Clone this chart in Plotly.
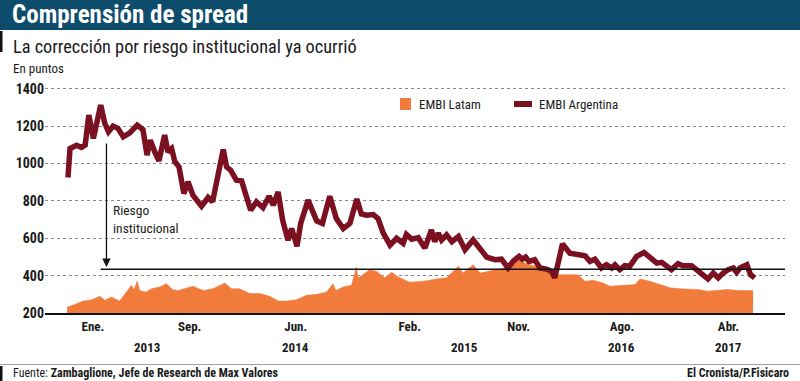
import plotly.graph_objects as go

# ---------------- data ----------------
arg_dates = [
    "2012-11-15", "2012-11-20", "2012-12-06", "2012-12-18", "2012-12-27", "2013-01-05",
    "2013-01-16", "2013-01-24", "2013-02-03", "2013-02-13", "2013-02-22", "2013-03-05",
    "2013-03-17", "2013-03-30", "2013-04-15", "2013-05-03", "2013-05-17", "2013-05-27",
    "2013-06-04", "2013-06-15", "2013-06-25", "2013-07-09", "2013-07-17", "2013-07-26",
    "2013-08-03", "2013-08-13", "2013-08-25", "2013-09-04", "2013-09-16", "2013-10-07",
    "2013-10-23", "2013-11-03", "2013-11-16", "2013-11-29", "2013-12-07", "2013-12-17",
    "2013-12-31", "2014-01-13", "2014-01-21", "2014-02-04", "2014-02-18", "2014-03-06",
    "2014-03-21", "2014-03-31", "2014-04-12", "2014-04-23", "2014-05-06", "2014-05-15",
    "2014-05-28", "2014-06-06", "2014-06-24", "2014-07-15", "2014-07-29", "2014-08-16",
    "2014-09-01", "2014-09-18", "2014-10-04", "2014-10-21", "2014-11-01", "2014-11-14",
    "2014-11-30", "2014-12-12", "2014-12-24", "2015-01-10", "2015-01-26", "2015-02-11",
    "2015-02-19", "2015-03-04", "2015-03-20", "2015-04-05", "2015-04-21", "2015-04-29",
    "2015-05-08", "2015-05-16", "2015-05-28", "2015-06-10", "2015-06-26", "2015-07-12",
    "2015-08-01", "2015-08-18", "2015-09-03", "2015-09-23", "2015-10-09", "2015-10-25",
    "2015-11-06", "2015-11-21", "2015-11-29", "2015-12-07", "2015-12-15", "2015-12-29",
    "2016-01-11", "2016-01-27", "2016-02-08", "2016-02-16", "2016-02-24", "2016-03-06",
    "2016-03-24", "2016-04-09", "2016-04-30", "2016-05-12", "2016-05-24", "2016-06-09",
    "2016-06-21", "2016-07-04", "2016-07-12", "2016-07-24", "2016-08-05", "2016-08-17",
    "2016-09-03", "2016-09-21", "2016-10-05", "2016-10-22", "2016-11-03", "2016-11-15",
    "2016-11-27", "2016-12-13", "2016-12-25", "2017-01-15", "2017-01-31", "2017-02-12",
    "2017-02-24", "2017-03-09", "2017-03-21", "2017-04-02", "2017-04-14", "2017-04-27",
    "2017-05-05", "2017-05-13", "2017-05-30", "2017-06-08", "2017-06-18",
]
embi_argentina = [
    925, 1080, 1098, 1086, 1098, 1259,
    1134, 1223, 1312, 1214, 1170, 1200,
    1188, 1143, 1164, 1205, 1182, 1045,
    1125, 1062, 1014, 1152, 1062, 1080,
    1009, 982, 839, 902, 830, 771,
    818, 795, 937, 1075, 982, 964,
    911, 907, 848, 750, 795, 764,
    825, 777, 848, 696, 589, 652,
    557, 679, 804, 693, 679, 825,
    705, 652, 679, 810, 730, 723,
    727, 705, 630, 563, 600, 573,
    620, 595, 603, 547, 644, 582,
    627, 591, 618, 582, 609, 538,
    591, 538, 499, 485, 488, 441,
    476, 503, 488, 499, 476, 485,
    441, 435, 423, 388, 476, 570,
    520, 512, 506, 476, 488, 441,
    458, 441, 458, 432, 453, 450,
    503, 524, 499, 467, 471, 450,
    432, 464, 453, 453, 428, 405,
    382, 414, 388, 414, 432, 441,
    418, 441, 458, 405, 388,
]

latam_dates = [
    "2012-11-13", "2012-11-20", "2012-12-06", "2012-12-22", "2013-01-12", "2013-02-01",
    "2013-02-13", "2013-03-01", "2013-03-21", "2013-04-11", "2013-04-19", "2013-04-25",
    "2013-05-03", "2013-05-09", "2013-05-24", "2013-06-07", "2013-06-27", "2013-07-13",
    "2013-07-29", "2013-08-11", "2013-08-27", "2013-09-16", "2013-10-11", "2013-11-04",
    "2013-12-03", "2013-12-19", "2014-01-08", "2014-02-02", "2014-02-27", "2014-03-23",
    "2014-04-12", "2014-05-02", "2014-05-27", "2014-06-20", "2014-07-15", "2014-08-08",
    "2014-08-24", "2014-08-31", "2014-09-18", "2014-10-08", "2014-10-20", "2014-10-24",
    "2014-11-05", "2014-11-21", "2014-12-08", "2014-12-28", "2015-01-14", "2015-01-30",
    "2015-02-27", "2015-04-01", "2015-05-04", "2015-05-28", "2015-06-26", "2015-07-07",
    "2015-08-01", "2015-08-18", "2015-09-07", "2015-10-05", "2015-10-29", "2015-11-19",
    "2015-12-05", "2015-12-25", "2016-01-11", "2016-01-27", "2016-02-16", "2016-03-04",
    "2016-04-13", "2016-04-30", "2016-05-20", "2016-06-13", "2016-06-30", "2016-07-24",
    "2016-08-30", "2016-09-11", "2016-10-05", "2016-10-30", "2016-11-23", "2016-12-25",
    "2017-01-31", "2017-02-24", "2017-03-17", "2017-04-10", "2017-05-13", "2017-06-14",
]
embi_latam = [
    232, 236, 250, 264, 271, 289,
    268, 286, 264, 321, 348, 325,
    371, 321, 312, 330, 339, 357,
    325, 321, 330, 343, 321, 330,
    361, 330, 330, 304, 304, 289,
    264, 264, 271, 295, 300, 312,
    357, 321, 339, 348, 446, 388,
    405, 432, 423, 388, 418, 393,
    365, 370, 382, 388, 450, 414,
    458, 414, 423, 435, 450, 485,
    467, 453, 441, 432, 405, 405,
    405, 370, 375, 361, 343, 347,
    352, 382, 370, 352, 335, 329,
    326, 317, 322, 326, 320, 320,
]

tick_dates = ["2013-01-15", "2013-09-08", "2014-05-25", "2015-02-27",
              "2015-11-20", "2016-07-29", "2017-04-15"]
tick_labels = ["Ene.", "Sep.", "Jun.", "Feb.", "Nov.", "Ago.", "Abr."]
year_dates = ["2013-05-27", "2014-05-25", "2015-07-12", "2016-07-29", "2017-04-15"]
year_labels = ["2013", "2014", "2015", "2016", "2017"]
y_ticks = [200, 400, 600, 800, 1000, 1200, 1400]

riesgo_level = 434
riesgo_top = 1115

# ---------------- style ----------------
FONT = "Roboto Condensed, Liberation Sans Narrow, DejaVu Sans Condensed, Roboto, sans-serif"
ORANGE = "#f07b3a"
MAROON = "#7a1020"
TEAL = "#0d4c6a"
TXT = "#1a1a1a"

fig = go.Figure()
fig.add_trace(go.Scatter(
    x=latam_dates, y=embi_latam, mode="lines", fill="tozeroy",
    line=dict(color=ORANGE, width=0.5), fillcolor=ORANGE,
    name="EMBI Latam", showlegend=False, hoverinfo="skip"))
fig.add_trace(go.Scatter(
    x=arg_dates, y=embi_argentina, mode="lines",
    line=dict(color=MAROON, width=5.5), name="EMBI Argentina", showlegend=False))

W, H = 800, 381
L, R, T, B = 45, 15, 85, 68
pw, ph = W - L - R, H - T - B


def px(x):
    return (x - L) / pw


def py(y):
    return (H - B - y) / ph


shapes = [
    # title bar
    dict(type="rect", xref="paper", yref="paper", x0=px(0), x1=px(800), y0=py(30), y1=py(0),
         fillcolor=TEAL, line=dict(width=0), layer="below"),
    # left marks
    dict(type="rect", xref="paper", yref="paper", x0=px(0), x1=px(2.5), y0=py(52), y1=py(31),
         fillcolor="#111", line=dict(width=0)),
    dict(type="rect", xref="paper", yref="paper", x0=px(0), x1=px(2.5), y0=py(381), y1=py(366),
         fillcolor="#111", line=dict(width=0)),
    # footer line
    dict(type="line", xref="paper", yref="paper", x0=px(0), x1=px(800), y0=py(364.5), y1=py(364.5),
         line=dict(color="#a0a0a0", width=1)),
    # legend symbols
    dict(type="rect", xref="paper", yref="paper", x0=px(400), x1=px(411), y0=py(110), y1=py(98),
         fillcolor=ORANGE, line=dict(width=0)),
    dict(type="line", xref="paper", yref="paper", x0=px(514), x1=px(532), y0=py(104), y1=py(104),
         line=dict(color=MAROON, width=6)),
    # riesgo horizontal line
    dict(type="line", xref="x", yref="y", x0="2013-02-03", x1="2017-08-31",
         y0=riesgo_level, y1=riesgo_level, line=dict(color="#111", width=1.5)),
]

annotations = [
    dict(text="<b>Comprensión de spread</b>", xref="paper", yref="paper", x=px(10), y=py(15),
         xanchor="left", yanchor="middle", showarrow=False,
         font=dict(family=FONT, size=25, color="white")),
    dict(text="La corrección por riesgo institucional ya ocurrió", xref="paper", yref="paper",
         x=px(11), y=py(47), xanchor="left", yanchor="middle", showarrow=False,
         font=dict(family=FONT, size=18.3, color=TXT)),
    dict(text="En puntos", xref="paper", yref="paper", x=px(11), y=py(68),
         xanchor="left", yanchor="middle", showarrow=False,
         font=dict(family=FONT, size=13, color=TXT)),
    dict(text="EMBI Latam", xref="paper", yref="paper", x=px(417), y=py(104),
         xanchor="left", yanchor="middle", showarrow=False,
         font=dict(family=FONT, size=13, color=TXT)),
    dict(text="EMBI Argentina", xref="paper", yref="paper", x=px(537), y=py(104),
         xanchor="left", yanchor="middle", showarrow=False,
         font=dict(family=FONT, size=13, color=TXT)),
    dict(text="Riesgo<br>institucional", xref="paper", yref="paper", x=px(111), y=py(218.5),
         xanchor="left", yanchor="middle", align="left", showarrow=False,
         font=dict(family=FONT, size=13.5, color=TXT)),
    dict(text="", xref="x", yref="y", x="2013-02-17", y=riesgo_level + 12,
         ax="2013-02-17", ay=riesgo_top, axref="x", ayref="y",
         showarrow=True, arrowhead=2, arrowsize=1.3, arrowwidth=1.3, arrowcolor="#111"),
    dict(text="Fuente: <b>Zambaglione, Jefe de Research de Max Valores</b>", xref="paper",
         yref="paper", x=px(11), y=py(373), xanchor="left", yanchor="middle", showarrow=False,
         font=dict(family=FONT, size=12, color=TXT)),
    dict(text="<b>El Cronista/P.Fisicaro</b>", xref="paper", yref="paper", x=px(791), y=py(373),
         xanchor="right", yanchor="middle", showarrow=False,
         font=dict(family=FONT, size=12, color=TXT)),
]
for d, lab in zip(year_dates, year_labels):
    annotations.append(dict(text="<b>" + lab + "</b>", xref="x", yref="paper", x=d, y=py(347),
                            xanchor="center", yanchor="middle", showarrow=False,
                            font=dict(family=FONT, size=13, color=TXT)))

fig.update_layout(
    width=W, height=H, margin=dict(l=L, r=R, t=T, b=B),
    paper_bgcolor="white", plot_bgcolor="white",
    showlegend=False, shapes=shapes, annotations=annotations,
    font=dict(family=FONT, color=TXT),
    xaxis=dict(type="date", range=["2012-09-20", "2017-08-31"], tickvals=tick_dates,
               ticktext=["<b>" + t + "</b>" for t in tick_labels], showgrid=False,
               showline=True, linecolor="#111", linewidth=2, ticks="",
               tickfont=dict(family=FONT, size=13, color=TXT), zeroline=False),
    yaxis=dict(range=[200, 1420], tickvals=y_ticks,
               ticktext=["<b>%d</b>" % v for v in y_ticks],
               showgrid=True, gridcolor="#8a8a8a", griddash="dot", gridwidth=1,
               zeroline=False, ticks="", tickfont=dict(family=FONT, size=14, color=TXT)),
)

fig.write_html("out.html", config={"displayModeBar": False},
               post_script="document.body.style.margin='0px';document.body.style.overflow='hidden';")
